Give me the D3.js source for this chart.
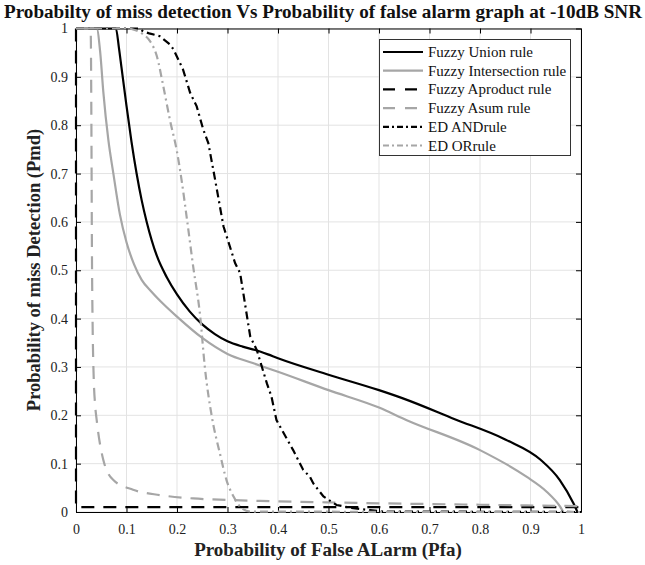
<!DOCTYPE html>
<html><head><meta charset="utf-8">
<script src="https://cdn.jsdelivr.net/npm/d3@7"></script>
<style>body{margin:0;background:#fff}svg{display:block}text{font-family:"Liberation Serif","Times New Roman",serif}</style>
</head><body>
<svg id="c" width="645" height="565"></svg>
<script>
const xTicks = [0,0.1,0.2,0.3,0.4,0.5,0.6,0.7,0.8,0.9,1];
const yTicks = [0,0.1,0.2,0.3,0.4,0.5,0.6,0.7,0.8,0.9,1];
const xTickLabels = ["0","0.1","0.2","0.3","0.4","0.5","0.6","0.7","0.8","0.9","1"];
const yTickLabels = ["0","0.1","0.2","0.3","0.4","0.5","0.6","0.7","0.8","0.9","1"];

const unionX = [0,0.079,0.085,0.09,0.1,0.11,0.12,0.13,0.14,0.16,0.18,0.2,0.225,0.25,0.275,0.3,0.33,0.355,0.38,0.4,0.5,0.6,0.65,0.75,0.85,0.92,0.958,0.985,0.993];
const unionY = [1,1,0.96,0.92,0.84,0.765,0.70,0.645,0.60,0.53,0.485,0.45,0.415,0.388,0.368,0.353,0.342,0.335,0.326,0.318,0.284,0.252,0.234,0.192,0.15,0.108,0.066,0.018,0];
const interX = [0,0.041,0.048,0.054,0.064,0.074,0.087,0.1,0.115,0.13,0.15,0.175,0.2,0.25,0.3,0.35,0.4,0.5,0.6,0.655,0.8,0.892,0.932,0.958,0.965];
const interY = [1,1,0.95,0.87,0.77,0.70,0.615,0.558,0.512,0.48,0.455,0.428,0.404,0.36,0.327,0.308,0.29,0.252,0.216,0.19,0.128,0.073,0.042,0.012,0];
const aprodX = [0,0,1];
const aprodY = [1,0.01,0.01];
const asumX = [0,0.029,0.0305,0.0315,0.033,0.035,0.038,0.041,0.054,0.074,0.113,0.166,0.232,0.298,0.364,0.496,0.6,0.8,1];
const asumY = [1,1,0.8,0.55,0.38,0.28,0.22,0.19,0.108,0.066,0.046,0.035,0.028,0.025,0.023,0.02,0.018,0.015,0.012];
const edAndX = [0,0.1,0.125,0.133,0.145,0.166,0.186,0.193,0.212,0.226,0.239,0.252,0.262,0.275,0.292,0.315,0.325,0.345,0.358,0.378,0.387,0.397,0.43,0.45,0.463,0.47,0.49,0.516,0.549,0.582,0.608,1];
const edAndY = [1,1,1,0.994,0.99,0.984,0.967,0.957,0.915,0.867,0.839,0.791,0.763,0.69,0.591,0.515,0.494,0.363,0.335,0.266,0.239,0.19,0.128,0.087,0.073,0.059,0.032,0.0145,0.0077,0.004,0.001,0];
const edOrX = [0,0.1,0.113,0.133,0.1465,0.16,0.173,0.186,0.2,0.209,0.219,0.232,0.246,0.255,0.269,0.285,0.298,0.312,0.328,0.345,1];
const edOrY = [1,1,0.998,0.988,0.974,0.943,0.88,0.811,0.745,0.687,0.611,0.508,0.404,0.301,0.197,0.121,0.066,0.032,0.008,0.001,0];

const seriesNames = ["Fuzzy Union rule","Fuzzy Intersection rule","Fuzzy Aproduct rule","Fuzzy Asum rule","ED ANDrule","ED ORrule"];
const seriesX = [unionX, interX, aprodX, asumX, edAndX, edOrX];
const seriesY = [unionY, interY, aprodY, asumY, edAndY, edOrY];
const seriesColor = ["#000","#a6a6a6","#000","#a6a6a6","#000","#a6a6a6"];
const seriesDash = [null,null,"13,9","13,9","8,4,2,4","8,4,2,4"];
const seriesCurve = [true,true,false,true,false,true];

const svg = d3.select("#c");
const L=76, R=581, T=28.5, B=512;
const x = d3.scaleLinear().domain([0,1]).range([L,R]);
const y = d3.scaleLinear().domain([0,1]).range([B,T]);

const g = svg.append("g");
g.selectAll(".gx").data(xTicks).enter().append("line")
 .attr("x1",d=>x(d)).attr("x2",d=>x(d)).attr("y1",T).attr("y2",B)
 .attr("stroke","#e3e3e3").attr("stroke-width",1);
g.selectAll(".gy").data(yTicks).enter().append("line")
 .attr("y1",d=>y(d)).attr("y2",d=>y(d)).attr("x1",L).attr("x2",R)
 .attr("stroke","#e3e3e3").attr("stroke-width",1);

const tl = 5;
const xb = svg.append("g").attr("transform",`translate(0,${B})`)
 .call(d3.axisBottom(x).tickValues(xTicks).tickFormat((d,i)=>xTickLabels[i]).tickSizeInner(-tl).tickSizeOuter(0).tickPadding(12));
const xt = svg.append("g").attr("transform",`translate(0,${T})`)
 .call(d3.axisTop(x).tickValues(xTicks).tickFormat("").tickSizeInner(-tl).tickSizeOuter(0));
const yl = svg.append("g").attr("transform",`translate(${L},0)`)
 .call(d3.axisLeft(y).tickValues(yTicks).tickFormat((d,i)=>yTickLabels[i]).tickSizeInner(-tl).tickSizeOuter(0).tickPadding(8));
const yr = svg.append("g").attr("transform",`translate(${R},0)`)
 .call(d3.axisRight(y).tickValues(yTicks).tickFormat("").tickSizeInner(-tl).tickSizeOuter(0));
[xb,xt,yl,yr].forEach(a=>{
  a.selectAll("path").attr("stroke","#000").attr("stroke-width",1);
  a.selectAll("line").attr("stroke","#000");
  a.selectAll("text").attr("font-family","Liberation Serif").attr("font-size",14).attr("fill","#222");
});

svg.append("clipPath").attr("id","clip").append("rect").attr("x",L-2).attr("y",T-2).attr("width",R-L+4).attr("height",B-T+4);

const lines = svg.append("g").attr("clip-path","url(#clip)");
seriesX.forEach((xs,i)=>{
  const pts = xs.map((v,j)=>[v,seriesY[i][j]]);
  const line = d3.line().x(d=>x(d[0])).y(d=>y(d[1]))
    .curve(seriesCurve[i] ? d3.curveMonotoneX : d3.curveLinear);
  const p = lines.append("path").attr("d",line(pts)).attr("fill","none")
    .attr("stroke",seriesColor[i]).attr("stroke-width",2.2);
  if(seriesDash[i]) p.attr("stroke-dasharray",seriesDash[i]);
});

const lg = svg.append("g");
lg.append("rect").attr("x",379.5).attr("y",39.5).attr("width",191).attr("height",116)
  .attr("fill","#fff").attr("stroke","#333").attr("stroke-width",1);
seriesNames.forEach((n,i)=>{
  const yy = 52 + i*18.7;
  const l = lg.append("line").attr("x1",383).attr("x2",423).attr("y1",yy).attr("y2",yy)
    .attr("stroke",seriesColor[i]).attr("stroke-width",2.2);
  if(seriesDash[i]) l.attr("stroke-dasharray", i>=4 ? "6,3,2,3" : "12,10");
  lg.append("text").attr("x",428).attr("y",yy+5).attr("font-size",15).attr("fill","#111").text(n);
});

svg.append("text").attr("x",323).attr("y",17.5).attr("text-anchor","middle")
  .attr("font-weight","bold").attr("font-size",18).attr("fill","#111")
  .attr("textLength",638).attr("lengthAdjust","spacingAndGlyphs")
  .text("Probabilty of miss detection Vs Probability of false alarm graph at -10dB SNR");
svg.append("text").attr("x",328).attr("y",556).attr("text-anchor","middle")
  .attr("font-weight","bold").attr("font-size",19).attr("fill","#222")
  .text("Probability of False ALarm (Pfa)");
svg.append("text").attr("transform","translate(40,270) rotate(-90)").attr("text-anchor","middle")
  .attr("font-weight","bold").attr("font-size",18.5).attr("fill","#222")
  .text("Probability of miss Detection (Pmd)");
</script>
</body></html>
